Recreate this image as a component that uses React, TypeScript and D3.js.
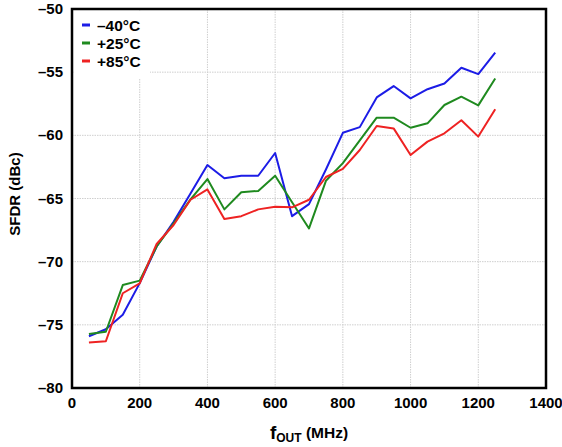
import React from "react";
import * as d3 from "d3";

const freqs = [50, 100, 150, 200, 250, 300, 350, 400, 450, 500, 550, 600, 650, 700, 750, 800, 850, 900, 950, 1000, 1050, 1100, 1150, 1200, 1250];
const sfdrM40 = [-75.9, -75.35, -74.2, -71.7, -68.8, -66.85, -64.6, -62.35, -63.4, -63.2, -63.2, -61.4, -66.4, -65.45, -62.7, -59.8, -59.35, -57.0, -56.1, -57.07, -56.35, -55.9, -54.65, -55.15, -53.45];
const sfdr25 = [-75.73, -75.55, -71.85, -71.5, -68.8, -66.97, -65.07, -63.46, -65.86, -64.5, -64.4, -63.2, -65.3, -67.37, -63.6, -62.2, -60.4, -58.6, -58.6, -59.4, -59.05, -57.6, -56.94, -57.63, -55.5];
const sfdr85 = [-76.4, -76.3, -72.5, -71.72, -68.6, -67.1, -65.1, -64.28, -66.62, -66.4, -65.86, -65.65, -65.7, -65.1, -63.3, -62.65, -61.16, -59.26, -59.45, -61.56, -60.5, -59.84, -58.8, -60.1, -57.94];
const seriesLabels = ["\u201340\u00b0C", "+25\u00b0C", "+85\u00b0C"];
const seriesColors = ["#1c1ce6", "#1f8a1f", "#ee2222"];
const xTicks = [0, 200, 400, 600, 800, 1000, 1200, 1400];
const yTicks = [-50, -55, -60, -65, -70, -75, -80];

const left = 72, right = 546, top = 9, bottom = 388;

export default function App() {
  const x = d3.scaleLinear().domain([0, 1400]).range([left, right]);
  const y = d3.scaleLinear().domain([-80, -50]).range([bottom, top]);
  const line = d3.line<[number, number]>().x(d => x(d[0])).y(d => y(d[1]));
  const all = [sfdrM40, sfdr25, sfdr85];
  const font = "'Liberation Sans', Arial, sans-serif";
  return (
    <svg width={562} height={447} style={{ position: "absolute", left: 0, top: 0, background: "#fff" }} fontFamily={font}>
      <rect x={0} y={0} width={562} height={447} fill="#fff" />
      {xTicks.slice(1, -1).map(t => (
        <line key={"gx" + t} x1={x(t)} x2={x(t)} y1={top} y2={bottom} stroke="#cfcfcf" strokeWidth={1} strokeDasharray="1.5,1" />
      ))}
      {yTicks.slice(1, -1).map(t => (
        <line key={"gy" + t} x1={left} x2={right} y1={y(t)} y2={y(t)} stroke="#cfcfcf" strokeWidth={1} strokeDasharray="1.5,1" />
      ))}
      <rect x={left + 2} y={top + 2} width={76} height={68} fill="#fff" />
      {all.map((s, i) => (
        <path key={"l" + i} d={line(freqs.map((f, j) => [f, s[j]] as [number, number])) || ""} fill="none" stroke={seriesColors[i]} strokeWidth={2} strokeLinejoin="round" />
      ))}
      <rect x={left} y={top} width={right - left} height={bottom - top} fill="none" stroke="#000" strokeWidth={2.5} />
      {seriesLabels.map((lab, i) => (
        <g key={"lg" + i}>
          <line x1={82} x2={90} y1={25 + i * 18} y2={25 + i * 18} stroke={seriesColors[i]} strokeWidth={3} />
          <text x={97} y={25 + i * 18 + 5.5} fontSize={15.5} fontWeight="bold" fill="#000">{lab}</text>
        </g>
      ))}
      {xTicks.map(t => (
        <text key={"tx" + t} x={x(t)} y={408} textAnchor="middle" fontSize={15} fontWeight="bold">{t}</text>
      ))}
      {yTicks.map(t => (
        <text key={"ty" + t} x={63} y={y(t) + 5} textAnchor="end" fontSize={15} fontWeight="bold">{"\u2013" + Math.abs(t)}</text>
      ))}
      <text transform="translate(20,194) rotate(-90)" textAnchor="middle" fontSize={15} fontWeight="bold">SFDR (dBc)</text>
      <text x={309} y={439} textAnchor="middle" fontWeight="bold">
        <tspan fontSize={19}>f</tspan>
        <tspan fontSize={12} dy={3}>OUT</tspan>
        <tspan fontSize={15.5} dy={-4}> (MHz)</tspan>
      </text>
    </svg>
  );
}
